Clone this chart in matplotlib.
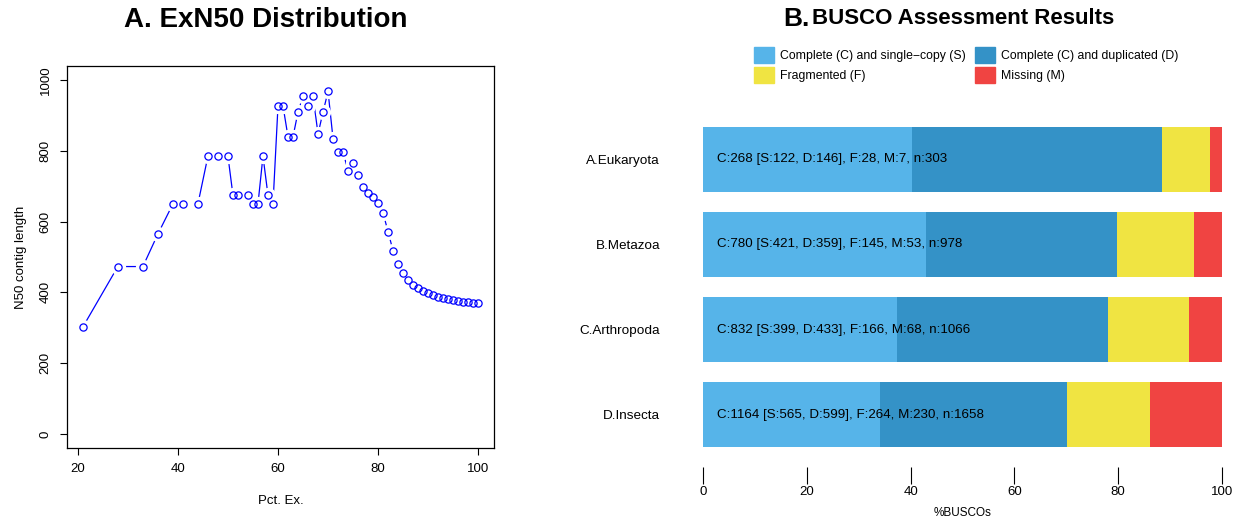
import numpy as np
import matplotlib.pyplot as plt
from matplotlib.patches import Patch

plt.rcParams['font.family'] = ['Liberation Sans', 'DejaVu Sans']

# ExN50 data
pct_ex = [21, 28, 33, 36, 39, 41, 44, 46, 48, 50, 51, 52, 54, 55, 56, 57, 58, 59,
          60, 61, 62, 63, 64, 65, 66, 67, 68, 69, 70, 71, 72, 73, 74, 75, 76, 77,
          78, 79, 80, 81, 82, 83, 84, 85, 86, 87, 88, 89, 90, 91, 92, 93, 94, 95,
          96, 97, 98, 99, 100]
n50 = [302, 473, 473, 565, 650, 650, 650, 785, 785, 785, 675, 675, 675, 650, 650, 785, 675, 650,
       927, 927, 840, 840, 910, 955, 927, 955, 848, 910, 968, 834, 798, 798, 742, 767, 732, 697,
       682, 671, 654, 624, 571, 517, 480, 455, 436, 422, 411, 405, 398, 393, 388, 384, 381, 378,
       376, 374, 373, 370, 370]

# BUSCO data
lineages = ['A.Eukaryota', 'B.Metazoa', 'C.Arthropoda', 'D.Insecta']
single = [122, 421, 399, 565]
duplicated = [146, 359, 433, 599]
fragmented = [28, 145, 166, 264]
missing = [7, 53, 68, 230]
categories = ['Complete (C) and single\u2212copy (S)', 'Complete (C) and duplicated (D)',
              'Fragmented (F)', 'Missing (M)']
colors = ['#56B4E9', '#3492C7', '#F0E442', '#F04442']

W, H = 1245, 521
fig = plt.figure(figsize=(W / 100, H / 100), dpi=100)

def box(x0, y0, x1, y1):
    return [x0 / W, 1 - y1 / H, (x1 - x0) / W, (y1 - y0) / H]

# ---- panel A ----
ax1 = fig.add_axes(box(67, 66, 494, 448))
ax1.plot(pct_ex, n50, color='blue', lw=0.9, zorder=1)
# white masks give the gaps of R's type="b"
ax1.plot(pct_ex, n50, ls='none', marker='o', ms=11, mfc='white', mec='none', zorder=2)
ax1.plot(pct_ex, n50, ls='none', marker='o', ms=5.2, mfc='none', mec='blue', mew=0.9, zorder=3)
ax1.set_xlim(17.84, 103.16)
ax1.set_ylim(-40, 1040)
ax1.set_xticks([20, 40, 60, 80, 100])
ax1.set_yticks([0, 200, 400, 600, 800, 1000])
ax1.tick_params(labelsize=9.5, length=5, width=0.8, pad=6)
for lab in ax1.get_yticklabels():
    lab.set_rotation(90)
    lab.set_va('center')
for s in ax1.spines.values():
    s.set_linewidth(0.9)
ax1.set_xlabel('Pct. Ex.', fontsize=9.5, labelpad=14)
ax1.set_ylabel('N50 contig length', fontsize=9.5, labelpad=9)
fig.text(266 / W, 1 - 20 / H, 'A. ExN50 Distribution', fontsize=20, fontweight='bold',
         ha='center', va='center')

# ---- panel B ----
ax2 = fig.add_axes(box(703, 115, 1222, 467))
y = np.arange(len(lineages))
left = np.zeros(len(lineages))
tot = np.array(single) + np.array(duplicated) + np.array(fragmented) + np.array(missing)
for vals, col, name in zip([single, duplicated, fragmented, missing], colors, categories):
    pct = np.array(vals) / tot * 100
    ax2.barh(y, pct, left=left, height=0.762, color=col, label=name)
    left += pct
for i in range(len(lineages)):
    c = single[i] + duplicated[i]
    ax2.text(2.7, y[i], f'C:{c} [S:{single[i]}, D:{duplicated[i]}], F:{fragmented[i]}, '
             f'M:{missing[i]}, n:{tot[i]}', fontsize=9.6, va='center', ha='left')
ax2.set_xlim(0, 100)
ax2.set_ylim(3.61, -0.516)
ax2.set_yticks(y, lineages)
ax2.set_xticks([0, 20, 40, 60, 80, 100])
for s in ax2.spines.values():
    s.set_visible(False)
ax2.tick_params(axis='y', length=0, pad=31, labelsize=9.7)
ax2.tick_params(axis='x', length=12, width=0.8, pad=2, labelsize=9.5)
ax2.set_xlabel('%BUSCOs', fontsize=8.5, labelpad=6)
fig.text(783 / W, 1 - 19 / H, 'B.', fontsize=19, fontweight='bold', ha='left', va='center')
fig.text(812 / W, 1 - 19 / H, 'BUSCO Assessment Results', fontsize=16, fontweight='bold',
         ha='left', va='center')

# legend fills column-wise, so order as S, F, D, M to get rows S|D and F|M
order = [0, 2, 1, 3]
handles = [Patch(color=colors[k]) for k in order]
fig.legend(handles, [categories[k] for k in order], loc='upper left',
           bbox_to_anchor=(754 / W, 1 - 47 / H),
           ncol=2, frameon=False, fontsize=8.8, handlelength=1.65, handleheight=1.65,
           handletextpad=0.5, labelspacing=0.3, columnspacing=0.75, borderpad=0,
           borderaxespad=0)

fig.savefig('out.png', dpi=100)
